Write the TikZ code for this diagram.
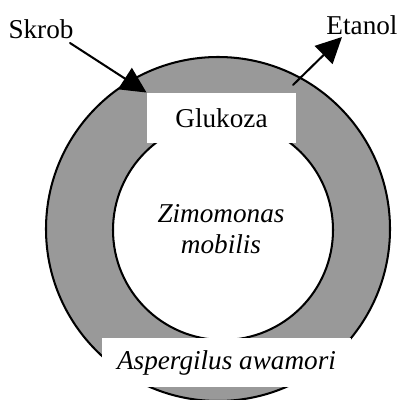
\documentclass[tikz,border=0pt]{standalone}
\usepackage{fontspec}
\setmainfont{Liberation Serif}
\usetikzlibrary{arrows.meta}
\definecolor{ringgray}{gray}{0.6}
\tikzset{
  lbl/.style={font=\fontsize{12}{14}\selectfont, inner sep=1pt},
  cover/.style={lbl, fill=white, inner sep=0pt},
  flow/.style={line width=0.9pt, -{Triangle[length=4mm,width=3.9mm]}}
}
\begin{document}
\begin{tikzpicture}[x=0.0155cm, y=-0.0155cm, line cap=round, line join=round]
  \useasboundingbox (0,0) rectangle (400,400);
  % outer ring and inner cell
  \filldraw[fill=ringgray, line width=0.9pt] (218,229) circle [radius=172];
  \filldraw[fill=white, line width=0.9pt] (223,230) circle [radius=110];
  % white label boxes
  \node[cover, minimum width=2.31cm, minimum height=0.775cm] (glukoza) at (221.5,118) {Glukoza};
  \node[cover, minimum width=3.86cm, minimum height=0.76cm] (aspergilus) at (226.5,362.5) {\itshape Aspergilus awamori};
  \node[lbl, align=center, font=\fontsize{12}{14}\selectfont\itshape] (zimomonas) at (221,229) {Zimomonas\\mobilis};
  % inflow and outflow
  \node[lbl] (skrob) at (41,29) {Skrob};
  \node[lbl] (etanol) at (362,25) {Etanol};
  \coordinate (skrobstart) at (70,43);
  \coordinate (etanolstart) at (293,85);
  \coordinate (etanolend) at (342,37);
  \draw[flow] (skrobstart) -- (glukoza.north west);
  \draw[flow] (etanolstart) -- (etanolend);
\end{tikzpicture}
\end{document}
